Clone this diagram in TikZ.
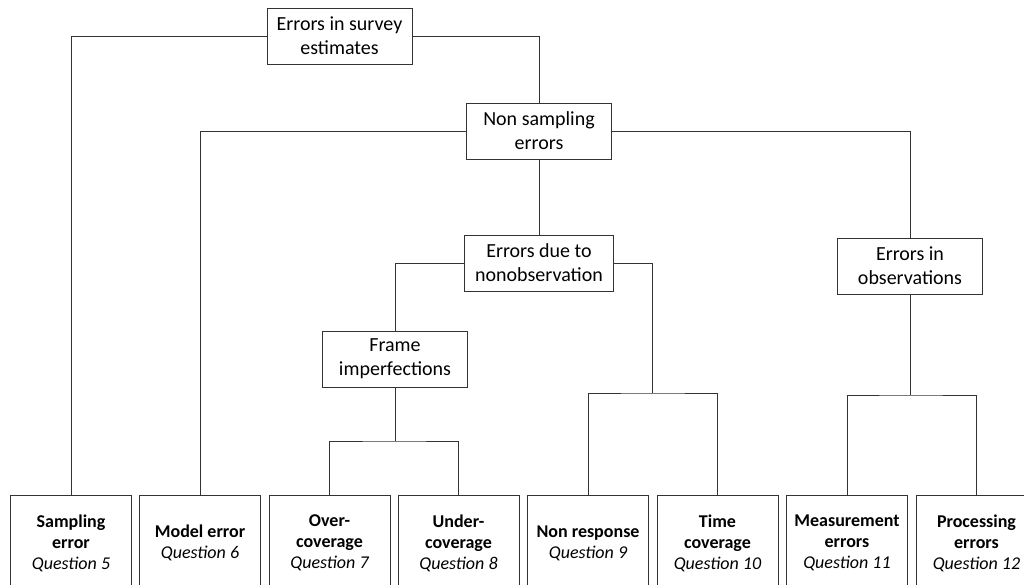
\documentclass[tikz,border=0pt]{standalone}
\usepackage{fontspec}
\setmainfont{Carlito}
\tikzset{
  errbox/.style={draw=black!80, line width=0.9pt, align=center, minimum width=145pt,
    minimum height=56pt, inner sep=2pt, font=\fontsize{20}{24}\selectfont},
  leafbox/.style={draw=black!80, line width=0.9pt, align=center, minimum width=121pt,
    minimum height=95pt, inner sep=2pt, anchor=north, font=\fontsize{18}{21}\selectfont\bfseries},
  link/.style={draw=black!80, line width=0.9pt}
}
\begin{document}
\begin{tikzpicture}[x=1pt, y=-1pt, line join=miter]
  \useasboundingbox (0,0) rectangle (1024,584);
  % upper boxes
  \node[errbox] (est) at (339.5,36) {Errors in survey\\estimates};
  \node[errbox] (nonsamp) at (539,131) {Non sampling\\errors};
  \node[errbox, minimum width=149pt] (nonobs) at (539,263) {Errors due to\\nonobservation};
  \node[errbox] (frame) at (395,359) {Frame\\imperfections};
  \node[errbox] (obs) at (910,266) {Errors in\\observations};
  % bottom row
  \foreach \n/\x/\t/\q in {samp/71/{Sampling\\error}/5, model/200/{Model error}/6,
      over/329.5/{Over-\\coverage}/7, under/458.5/{Under-\\coverage}/8,
      nonresp/588/{Non response}/9, timecov/717.5/{Time\\coverage}/10,
      meas/847/{Measurement\\errors}/11, proc/976.5/{Processing\\errors}/12}
    \node[leafbox] (\n) at (\x,495) {\t\\\normalfont\itshape Question \q};
  \coordinate (fbar) at (395,441);
  \coordinate (rbar) at (652.75,393);
  \coordinate (obar) at (910,395);
  \draw[link] (est.west) -| (samp.north);
  \draw[link] (est.east) -| (nonsamp.north);
  \draw[link] (nonsamp.west) -| (model.north);
  \draw[link] (nonsamp.east) -| (obs.north);
  \draw[link] (nonsamp.south) -- (nonobs.north);
  \draw[link] (nonobs.west) -| (frame.north);
  \draw[link] (nonobs.east) -| (rbar);
  \draw[link] (nonresp.north) |- (rbar) -| (timecov.north);
  \draw[link] (frame.south) -- (fbar);
  \draw[link] (over.north) |- (fbar) -| (under.north);
  \draw[link] (obs.south) -- (obar);
  \draw[link] (meas.north) |- (obar) -| (proc.north);
\end{tikzpicture}
\end{document}
